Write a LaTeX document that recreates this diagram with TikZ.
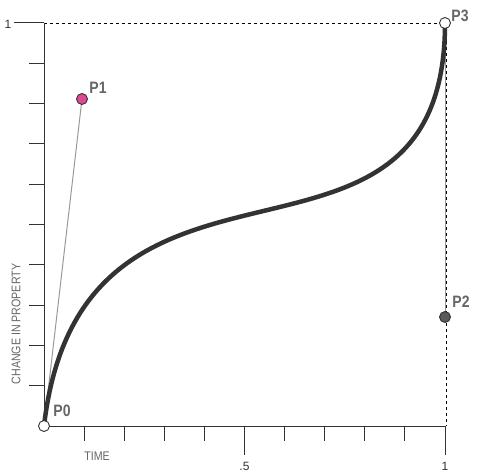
\documentclass[tikz,border=0pt]{standalone}
\usepackage{fontspec}
\setmainfont{Liberation Sans}
\definecolor{ink}{HTML}{333333}
\definecolor{lbl}{HTML}{666666}
\definecolor{ctrl}{HTML}{999999}
\definecolor{mag}{HTML}{E0488F}
\definecolor{pdark}{HTML}{5A5A5A}
\tikzset{
  axisline/.style={draw=ink, line width=1pt},
  tick/.style={draw=ink, line width=1pt},
  guide/.style={draw=black, line width=0.9pt, dash pattern=on 3pt off 3pt},
  ctrlline/.style={draw=ctrl, line width=1pt},
  curveline/.style={draw=ink, line width=4.5pt},
  cpt/.style={circle, draw=ink, line width=0.9pt, minimum size=11pt, inner sep=0pt},
  plabel/.style={text=lbl, font=\fontsize{16.5}{16.5}\selectfont\bfseries, inner sep=0pt},
  numlabel/.style={text=ink, font=\fontsize{12}{12}\selectfont, inner sep=0pt},
  axlabel/.style={text=lbl, font=\fontsize{12.5}{12.5}\selectfont, inner sep=0pt}
}
\begin{document}
\begin{tikzpicture}[x=1pt,y=-1pt]
\useasboundingbox (0,0) rectangle (477,476);
% coordinates
\coordinate (c0) at (44,426);
\coordinate (c1) at (82,99);
\coordinate (c2) at (445,317);
\coordinate (c3) at (445,23);
\coordinate (ytop) at (44,23);
\coordinate (xend) at (445,426);
% guides
\draw[guide] (ytop) -- (c3);
\draw[guide] (446,23) -- (446,426);
% axes
\draw[axisline] (ytop) -- (c0) -- (xend);
\draw[tick] (14,23) -- (ytop);
\foreach \y in {63.3,103.6,143.9,184.2,224.5,264.8,305.1,345.4,385.7}
  \draw[tick] (29,\y) -- (44,\y);
\foreach \x in {84.1,124.2,164.3,204.4,284.6,324.7,364.8,404.9}
  \draw[tick] (\x,426) -- (\x,441);
\draw[tick] (244.5,426) -- (244.5,455);
\draw[tick] (445,426) -- (445,455);
% labels
\node[numlabel] (l1) at (8,24) {1};
\node[numlabel] (lhalf) at (244.5,466.5) {.5};
\node[numlabel] (lone) at (445,466.5) {1};
\node[axlabel] (ltime) at (97,456) {\scalebox{0.85}[1]{TIME}};
\node[axlabel, rotate=90] (lprop) at (16,324) {\scalebox{0.85}[1]{CHANGE IN PROPERTY}};
% control lines
\draw[ctrlline] (c0) -- (c1);
\draw[ctrlline] (c3) -- (c2);
% curve
\draw[curveline] (c0) .. controls (c1) and (c2) .. (c3);
% points
\node[cpt, fill=white] (p0) at (c0) {};
\node[cpt, fill=mag] (p1) at (c1) {};
\node[cpt, fill=pdark] (p2) at (c2) {};
\node[cpt, fill=white] (p3) at (c3) {};
\node[plabel] (t0) at (62,411) {\scalebox{0.85}[1]{P0}};
\node[plabel] (t1) at (98,88) {\scalebox{0.85}[1]{P1}};
\node[plabel] (t2) at (461,302) {\scalebox{0.85}[1]{P2}};
\node[plabel] (t3) at (460,16) {\scalebox{0.85}[1]{P3}};
\end{tikzpicture}
\end{document}
